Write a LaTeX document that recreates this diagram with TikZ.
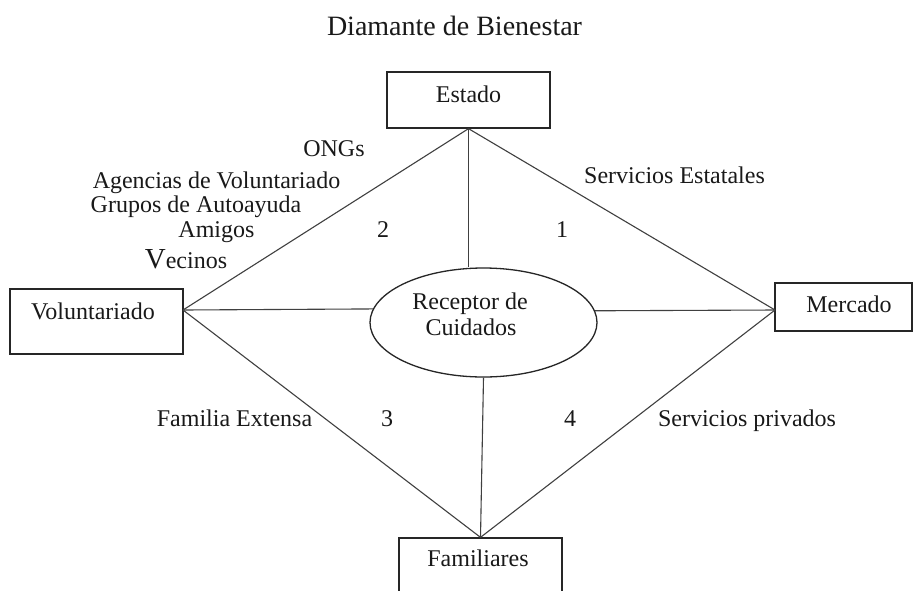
\documentclass[tikz,border=0pt]{standalone}
\usepackage{fontspec}
\setmainfont{Liberation Serif}
\usetikzlibrary{shapes.geometric}
\begin{document}
\begin{tikzpicture}[x=1pt,y=-1pt,
  lbl/.style={inner sep=0pt,anchor=base,font=\fontsize{24}{27}\selectfont,text=black!90},
  boxn/.style={draw=black!85,line width=1.3pt,rectangle,inner sep=0pt},
  conn/.style={draw=black!75,line width=1.1pt}]
\clip (0,0) rectangle (915,590);
\fill[white] (0,0) rectangle (915,590);
% boxes
\node[boxn,minimum width=163pt,minimum height=56pt] (est) at (468.5,100) {};
\node[boxn,minimum width=173pt,minimum height=65pt] (vol) at (96.5,321.5) {};
\node[boxn,minimum width=137pt,minimum height=48pt] (merc) at (843.5,307) {};
\node[boxn,minimum width=163pt,minimum height=64pt] (fam) at (480.5,570) {};
\node[draw=black!85,line width=1.3pt,ellipse,inner sep=0pt,minimum width=227pt,minimum height=109pt] (rec) at (483.5,322.5) {};
\coordinate (vR) at (183,310);
\coordinate (mL) at (775,310);
% connectors
\draw[conn] (est.south) -- (vR);
\draw[conn] (est.south) -- (mL);
\draw[conn] (fam.north) -- (vR);
\draw[conn] (fam.north) -- (mL);
\draw[conn] (est.south) -- (est.south |- rec.north);
\draw[conn] (rec.south) -- (fam.north);
\draw[conn] (vR) -- (rec.173.5);
\draw[conn] (rec.6.5) -- (mL);
% texts
\node[lbl,font=\fontsize{28}{30}\selectfont] (title) at (454.5,35) {Diamante de Bienestar};
\node[lbl] (estt) at (468.5,102) {Estado};
\node[lbl] (volt) at (93,319) {Voluntariado};
\node[lbl] (merct) at (849,312) {Mercado};
\node[lbl] (famt) at (478,566) {Familiares};
\node[lbl] (rec1) at (470,309) {Receptor de};
\node[lbl] (rec2) at (471,335) {Cuidados};
\node[lbl] (ongs) at (334,156) {ONGs};
\node[lbl] (agen) at (216.5,188) {Agencias de Voluntariado};
\node[lbl] (grup) at (196,212) {Grupos de Autoayuda};
\node[lbl] (amig) at (216.5,237) {Amigos};
\node[lbl] (veci) at (186,268) {{\fontsize{29}{30}\selectfont V}ecinos};
\node[lbl] (n2) at (383,237) {2};
\node[lbl] (n1) at (562,237) {1};
\node[lbl] (sest) at (674.5,183) {Servicios Estatales};
\node[lbl] (fext) at (234.5,426) {Familia Extensa};
\node[lbl] (n3) at (387,426) {3};
\node[lbl] (n4) at (570,426) {4};
\node[lbl] (spriv) at (747,426) {Servicios privados};
\end{tikzpicture}
\end{document}
